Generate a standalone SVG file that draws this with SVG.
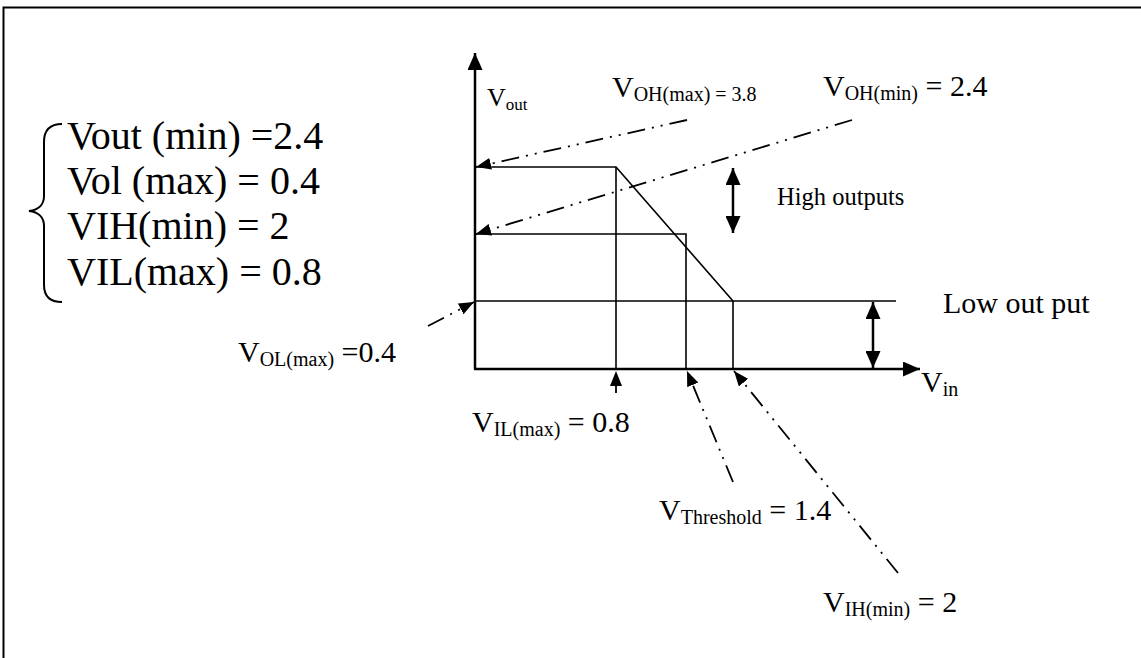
<svg xmlns="http://www.w3.org/2000/svg" width="1141" height="658" viewBox="0 0 1141 658">
<style>
.t{font-family:"Liberation Serif","Times New Roman",serif;fill:#000}
.big{font-size:40px}
.lbl{font-size:30px}
.sub{font-size:20px}
.ax{stroke:#000;stroke-width:2.5;fill:none}
.ln{stroke:#000;stroke-width:1.6;fill:none}
.dd{stroke:#000;stroke-width:1.8;fill:none;stroke-dasharray:18 7 2 7 2 7}
.dbl{stroke:#000;stroke-width:2.5;fill:none}
</style>
<defs>
<marker id="ah" markerUnits="userSpaceOnUse" markerWidth="17" markerHeight="15" refX="17" refY="7.5" orient="auto-start-reverse" viewBox="0 0 17 15">
<path d="M0,0 L17,7.5 L0,15 z" fill="#000"/>
</marker>
<marker id="sh" markerUnits="userSpaceOnUse" markerWidth="15" markerHeight="12" refX="15" refY="6" orient="auto" viewBox="0 0 15 12">
<path d="M0,0 L15,6 L0,12 z" fill="#000"/>
</marker>
</defs>
<rect width="1141" height="658" fill="#fff"/>
<path d="M3.5 658 L3.5 7.5 L1141 7.5" stroke="#000" stroke-width="2" fill="none"/>

<g id="brace">
<path d="M62 124 C50 124 44 130 44 142 L44 196 C44 205 38 210 29 211 C38 212 44 217 44 226 L44 285 C44 296 50 302 62 302" stroke="#000" stroke-width="2" fill="none"/>
</g>
<g id="specs">
<text class="t big" x="67" y="149">Vout (min) =2.4</text>
<text class="t big" x="67" y="194">Vol (max) = 0.4</text>
<text class="t big" x="67" y="239">VIH(min) = 2</text>
<text class="t big" x="67" y="285">VIL(max) = 0.8</text>
</g>

<g id="axes">
<line class="ax" x1="475" y1="369" x2="475" y2="53" marker-end="url(#ah)"/>
<line class="ax" x1="474" y1="369" x2="920" y2="369" marker-end="url(#ah)"/>
</g>

<g id="curve">
<polyline class="ln" points="475,167 616,167 733,301"/>
<line class="ln" x1="616" y1="167" x2="616" y2="369"/>
<polyline class="ln" points="475,234 686,234 686,369"/>
<line class="ln" x1="475" y1="301" x2="896" y2="301"/>
<line class="ln" x1="733" y1="301" x2="733" y2="369"/>
</g>

<g id="ranges">
<line class="dbl" x1="733" y1="168" x2="733" y2="233" marker-start="url(#ah)" marker-end="url(#ah)"/>
<line class="dbl" x1="873" y1="302" x2="873" y2="368" marker-start="url(#ah)" marker-end="url(#ah)"/>
</g>

<g id="connectors">
<line class="dd" x1="687" y1="120" x2="476" y2="167" marker-end="url(#sh)"/>
<line class="dd" x1="852" y1="120" x2="476" y2="234" marker-end="url(#sh)"/>
<line class="dd" x1="428" y1="326" x2="474" y2="302" marker-end="url(#sh)"/>
<line class="dd" x1="616" y1="393" x2="616" y2="371" marker-end="url(#sh)"/>
<line class="dd" x1="733" y1="482" x2="687" y2="371" marker-end="url(#sh)"/>
<line class="dd" x1="898" y1="573" x2="734" y2="371" marker-end="url(#sh)"/>
</g>

<g id="labels">
<text class="t" x="487" y="106" font-size="26">V<tspan font-size="17" dy="4">out</tspan></text>
<text class="t lbl" x="612" y="97">V<tspan class="sub" dy="4">OH(max) = 3.8</tspan></text>
<text class="t lbl" x="823" y="96">V<tspan class="sub" dy="4">OH(min)</tspan><tspan dy="-4"> = 2.4</tspan></text>
<text class="t" x="777" y="205" font-size="24.5">High outputs</text>
<text class="t" x="943" y="313" font-size="30">Low out put</text>
<text class="t lbl" x="921" y="392">V<tspan class="sub" dy="4">in</tspan></text>
<text class="t lbl" x="238" y="362">V<tspan class="sub" dy="4">OL(max)</tspan><tspan dy="-4"> =0.4</tspan></text>
<text class="t lbl" x="472" y="432">V<tspan class="sub" dy="4">IL(max)</tspan><tspan dy="-4"> = 0.8</tspan></text>
<text class="t lbl" x="659" y="520">V<tspan class="sub" dy="4">Threshold</tspan><tspan dy="-4"> = 1.4</tspan></text>
<text class="t lbl" x="823" y="612">V<tspan class="sub" dy="4">IH(min)</tspan><tspan dy="-4"> = 2</tspan></text>
</g>
</svg>
